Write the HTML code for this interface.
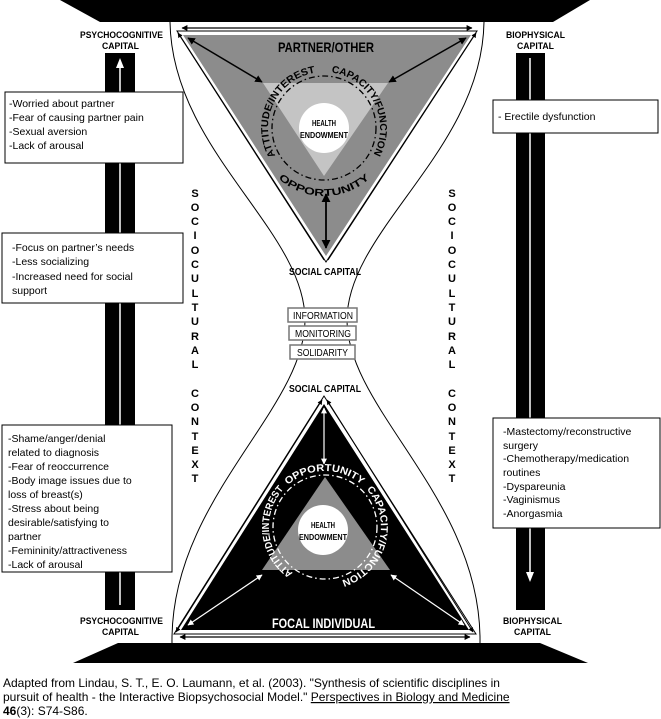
<!DOCTYPE html>
<html><head><meta charset="utf-8"><style>
body{margin:0;background:#fff;}
svg{display:block;}
.n{font-family:"Liberation Sans Narrow","Liberation Sans",sans-serif;font-weight:bold;}
.b{font-family:"Liberation Sans",sans-serif;}
</style></head><body>
<svg width="661" height="719" viewBox="0 0 661 719" xmlns="http://www.w3.org/2000/svg">
<defs>
<marker id="ak" viewBox="0 0 10 10" refX="9" refY="5" markerWidth="5" markerHeight="5" orient="auto-start-reverse"><path d="M0,0L10,5L0,10z" fill="#000"/></marker>
<marker id="aw" viewBox="0 0 10 10" refX="9" refY="5" markerWidth="5" markerHeight="5" orient="auto-start-reverse"><path d="M0,0L10,5L0,10z" fill="#fff"/></marker>
<path id="tc" d="M281.1,163.9 A56,56 0 1 1 352,176.5"/>
<path id="to" d="M260.1,151.3 A68,68 0 0 0 387.9,151.3"/>
<path id="bc" d="M297,575.5 A56,56 0 1 1 334.7,582.1"/>
</defs>
<!-- bars -->
<polygon points="60,0 590,0 553,22 100,22" fill="#000"/>
<polygon points="118,643 540,643 588,663 73,663" fill="#000"/>
<rect x="105" y="53" width="30" height="557" fill="#000"/>
<line x1="120" y1="66" x2="120" y2="605" stroke="#fff" stroke-width="1.5"/>
<polygon points="120,58 116,68 124,68" fill="#fff"/>
<rect x="516" y="53" width="29" height="557" fill="#000"/>
<line x1="530" y1="58" x2="530" y2="573" stroke="#fff" stroke-width="1.5"/>
<polygon points="530,582 526,572 534,572" fill="#fff"/>
<!-- hourglass curves -->
<path d="M170,22 C172,150 305,230 305,320 C305,410 170,500 172,643" fill="none" stroke="#000" stroke-width="1"/>
<path d="M484,22 C482,150 347,230 347,320 C347,410 482,500 480,643" fill="none" stroke="#000" stroke-width="1"/>
<!-- top triangle -->
<polygon points="177,31 477,31 326,262" fill="#fff" stroke="#000" stroke-width="1"/>
<polygon points="183,35 471,35 326,256" fill="#8c8c8c"/>
<polygon points="263,83 388,83 324,176" fill="#c4c4c4"/>
<circle cx="324" cy="128" r="52" fill="none" stroke="#000" stroke-width="1.3" stroke-dasharray="6,3,1.5,3"/>
<circle cx="324" cy="128" r="25" fill="#fff"/>
<text class="n" x="312" y="126" font-size="8" textLength="24" lengthAdjust="spacingAndGlyphs">HEALTH</text>
<text class="n" x="300" y="138" font-size="8" textLength="48" lengthAdjust="spacingAndGlyphs">ENDOWMENT</text>
<text class="n" font-size="10"><textPath href="#tc" startOffset="10" textLength="108" lengthAdjust="spacingAndGlyphs">ATTITUDE/INTEREST</textPath></text>
<text class="n" font-size="10"><textPath href="#tc" startOffset="134" textLength="108" lengthAdjust="spacingAndGlyphs">CAPACITY/FUNCTION</textPath></text>
<text class="n" font-size="10"><textPath href="#to" startOffset="33" textLength="100" lengthAdjust="spacingAndGlyphs">OPPORTUNITY</textPath></text>
<text class="n" x="278" y="52" font-size="14" textLength="96" lengthAdjust="spacingAndGlyphs">PARTNER/OTHER</text>
<line x1="182" y1="28" x2="472" y2="28" stroke="#000" stroke-width="1.2" marker-start="url(#ak)" marker-end="url(#ak)"/>
<line x1="188" y1="38" x2="262" y2="82" stroke="#000" stroke-width="1.5" marker-start="url(#ak)" marker-end="url(#ak)"/>
<line x1="466" y1="38" x2="389" y2="82" stroke="#000" stroke-width="1.5" marker-start="url(#ak)" marker-end="url(#ak)"/>
<line x1="326" y1="194" x2="326" y2="248" stroke="#000" stroke-width="1.8" marker-start="url(#ak)" marker-end="url(#ak)"/>
<line x1="178" y1="33" x2="324" y2="260" stroke="#000" stroke-width="1" marker-start="url(#ak)"/>
<line x1="476" y1="33" x2="328" y2="260" stroke="#000" stroke-width="1" marker-start="url(#ak)"/>
<text class="n" x="289" y="275" font-size="10" textLength="72" lengthAdjust="spacingAndGlyphs">SOCIAL CAPITAL</text>
<!-- middle boxes -->
<g class="n" font-size="10">
<rect x="288" y="308" width="69" height="14" fill="#fff" stroke="#777" stroke-width="1.5"/>
<text x="293" y="319" font-weight="normal" textLength="60" lengthAdjust="spacingAndGlyphs">INFORMATION</text>
<rect x="289" y="326" width="67" height="14" fill="#fff" stroke="#777" stroke-width="1.5"/>
<text x="295" y="337" font-weight="normal" textLength="56" lengthAdjust="spacingAndGlyphs">MONITORING</text>
<rect x="290" y="345" width="65" height="14" fill="#fff" stroke="#777" stroke-width="1.5"/>
<text x="297" y="356" font-weight="normal" textLength="51" lengthAdjust="spacingAndGlyphs">SOLIDARITY</text>
</g>
<!-- bottom triangle -->
<text class="n" x="289" y="392" font-size="10" textLength="72" lengthAdjust="spacingAndGlyphs">SOCIAL CAPITAL</text>
<polygon points="324,396 174,634 476,634" fill="#fff" stroke="#000" stroke-width="1"/>
<polygon points="324,404 181,630 469,630" fill="#000"/>
<polygon points="325,477 262,570 390,570" fill="#8c8c8c"/>
<circle cx="325" cy="527" r="52" fill="none" stroke="#fff" stroke-width="1.3" stroke-dasharray="6,3,1.5,3"/>
<circle cx="323" cy="530" r="25" fill="#fff"/>
<text class="n" x="311" y="528" font-size="8" textLength="24" lengthAdjust="spacingAndGlyphs">HEALTH</text>
<text class="n" x="299" y="540" font-size="8" textLength="48" lengthAdjust="spacingAndGlyphs">ENDOWMENT</text>
<g fill="#fff">
<text class="n" font-size="10"><textPath href="#bc" startOffset="5" textLength="95" lengthAdjust="spacingAndGlyphs">ATTITUDE/INTEREST</textPath></text>
<text class="n" font-size="10"><textPath href="#bc" startOffset="106" textLength="80" lengthAdjust="spacingAndGlyphs">OPPORTUNITY</textPath></text>
<text class="n" font-size="10"><textPath href="#bc" startOffset="193" textLength="112" lengthAdjust="spacingAndGlyphs">CAPACITY/FUNCTION</textPath></text>
</g>
<text class="n" x="272" y="628" font-size="14" fill="#fff" textLength="103" lengthAdjust="spacingAndGlyphs">FOCAL INDIVIDUAL</text>
<line x1="180" y1="637" x2="470" y2="637" stroke="#000" stroke-width="1.2" marker-start="url(#ak)" marker-end="url(#ak)"/>
<line x1="188" y1="625" x2="262" y2="575" stroke="#fff" stroke-width="1.2" marker-start="url(#aw)" marker-end="url(#aw)"/>
<line x1="464" y1="625" x2="391" y2="575" stroke="#fff" stroke-width="1.2" marker-start="url(#aw)" marker-end="url(#aw)"/>
<line x1="324" y1="408" x2="324" y2="464" stroke="#fff" stroke-width="1.2" marker-start="url(#aw)" marker-end="url(#aw)"/>
<line x1="176" y1="632" x2="322" y2="400" stroke="#000" stroke-width="1" marker-start="url(#ak)" marker-end="url(#ak)"/>
<line x1="473" y1="632" x2="327" y2="400" stroke="#000" stroke-width="1" marker-start="url(#ak)" marker-end="url(#ak)"/>
<!-- sociocultural context -->
<g class="b" font-size="11" font-weight="bold" text-anchor="middle">
<text x="195" y="197">S</text><text x="195" y="211">O</text><text x="195" y="225">C</text><text x="195" y="239">I</text><text x="195" y="254">O</text><text x="195" y="268">C</text><text x="195" y="282">U</text><text x="195" y="297">L</text><text x="195" y="311">T</text><text x="195" y="325">U</text><text x="195" y="340">R</text><text x="195" y="354">A</text><text x="195" y="368">L</text>
<text x="195" y="397">C</text><text x="195" y="411">O</text><text x="195" y="425">N</text><text x="195" y="440">T</text><text x="195" y="454">E</text><text x="195" y="468">X</text><text x="195" y="482">T</text>
<text x="452" y="197">S</text><text x="452" y="211">O</text><text x="452" y="225">C</text><text x="452" y="239">I</text><text x="452" y="254">O</text><text x="452" y="268">C</text><text x="452" y="282">U</text><text x="452" y="297">L</text><text x="452" y="311">T</text><text x="452" y="325">U</text><text x="452" y="340">R</text><text x="452" y="354">A</text><text x="452" y="368">L</text>
<text x="452" y="397">C</text><text x="452" y="411">O</text><text x="452" y="425">N</text><text x="452" y="440">T</text><text x="452" y="454">E</text><text x="452" y="468">X</text><text x="452" y="482">T</text>
</g>
<!-- capital labels -->
<g class="n" font-size="9" font-weight="normal">
<text x="80" y="38" textLength="83" lengthAdjust="spacingAndGlyphs">PSYCHOCOGNITIVE</text><text x="102" y="49" textLength="37" lengthAdjust="spacingAndGlyphs">CAPITAL</text>
<text x="80" y="624" textLength="83" lengthAdjust="spacingAndGlyphs">PSYCHOCOGNITIVE</text><text x="102" y="635" textLength="37" lengthAdjust="spacingAndGlyphs">CAPITAL</text>
<text x="506" y="38" textLength="59" lengthAdjust="spacingAndGlyphs">BIOPHYSICAL</text><text x="517" y="49" textLength="37" lengthAdjust="spacingAndGlyphs">CAPITAL</text>
<text x="503" y="624" textLength="59" lengthAdjust="spacingAndGlyphs">BIOPHYSICAL</text><text x="514" y="635" textLength="37" lengthAdjust="spacingAndGlyphs">CAPITAL</text>
</g>
<!-- text boxes -->
<g class="b" font-size="10.5">
<rect x="5" y="92" width="178" height="71" fill="#fff" stroke="#000"/>
<text x="9" y="107">-Worried about partner</text><text x="9" y="121">-Fear of causing partner pain</text><text x="9" y="135">-Sexual aversion</text><text x="9" y="149">-Lack of arousal</text>
<rect x="2" y="233" width="181" height="70" fill="#fff" stroke="#000"/>
<text x="12" y="251">-Focus on partner’s needs</text><text x="12" y="265">-Less socializing</text><text x="12" y="280">-Increased need for social</text><text x="12" y="294">support</text>
<rect x="2" y="425" width="170" height="147" fill="#fff" stroke="#000"/>
<text x="8" y="442">-Shame/anger/denial</text><text x="8" y="456">related to diagnosis</text><text x="8" y="470">-Fear of reoccurrence</text><text x="8" y="484">-Body image issues due to</text><text x="8" y="498">loss of breast(s)</text><text x="8" y="512">-Stress about being</text><text x="8" y="526">desirable/satisfying to</text><text x="8" y="540">partner</text><text x="8" y="554">-Femininity/attractiveness</text><text x="8" y="568">-Lack of arousal</text>
<rect x="493" y="100" width="165" height="33" fill="#fff" stroke="#000"/>
<text x="498" y="120">- Erectile dysfunction</text>
<rect x="493" y="418" width="167" height="110" fill="#fff" stroke="#000"/>
<text x="503" y="435">-Mastectomy/reconstructive</text><text x="503" y="449">surgery</text><text x="503" y="462">-Chemotherapy/medication</text><text x="503" y="476">routines</text><text x="503" y="490">-Dyspareunia</text><text x="503" y="503">-Vaginismus</text><text x="503" y="517">-Anorgasmia</text>
</g>
<!-- caption -->
<g class="b" font-size="12">
<text x="3" y="687">Adapted from Lindau, S. T., E. O. Laumann, et al. (2003). "Synthesis of scientific disciplines in</text>
<text x="3" y="701">pursuit of health - the Interactive Biopsychosocial Model." <tspan text-decoration="underline">Perspectives in Biology and Medicine</tspan></text>
<text x="3" y="715"><tspan font-weight="bold">46</tspan>(3): S74-S86.</text>
</g>
</svg>
</body></html>
